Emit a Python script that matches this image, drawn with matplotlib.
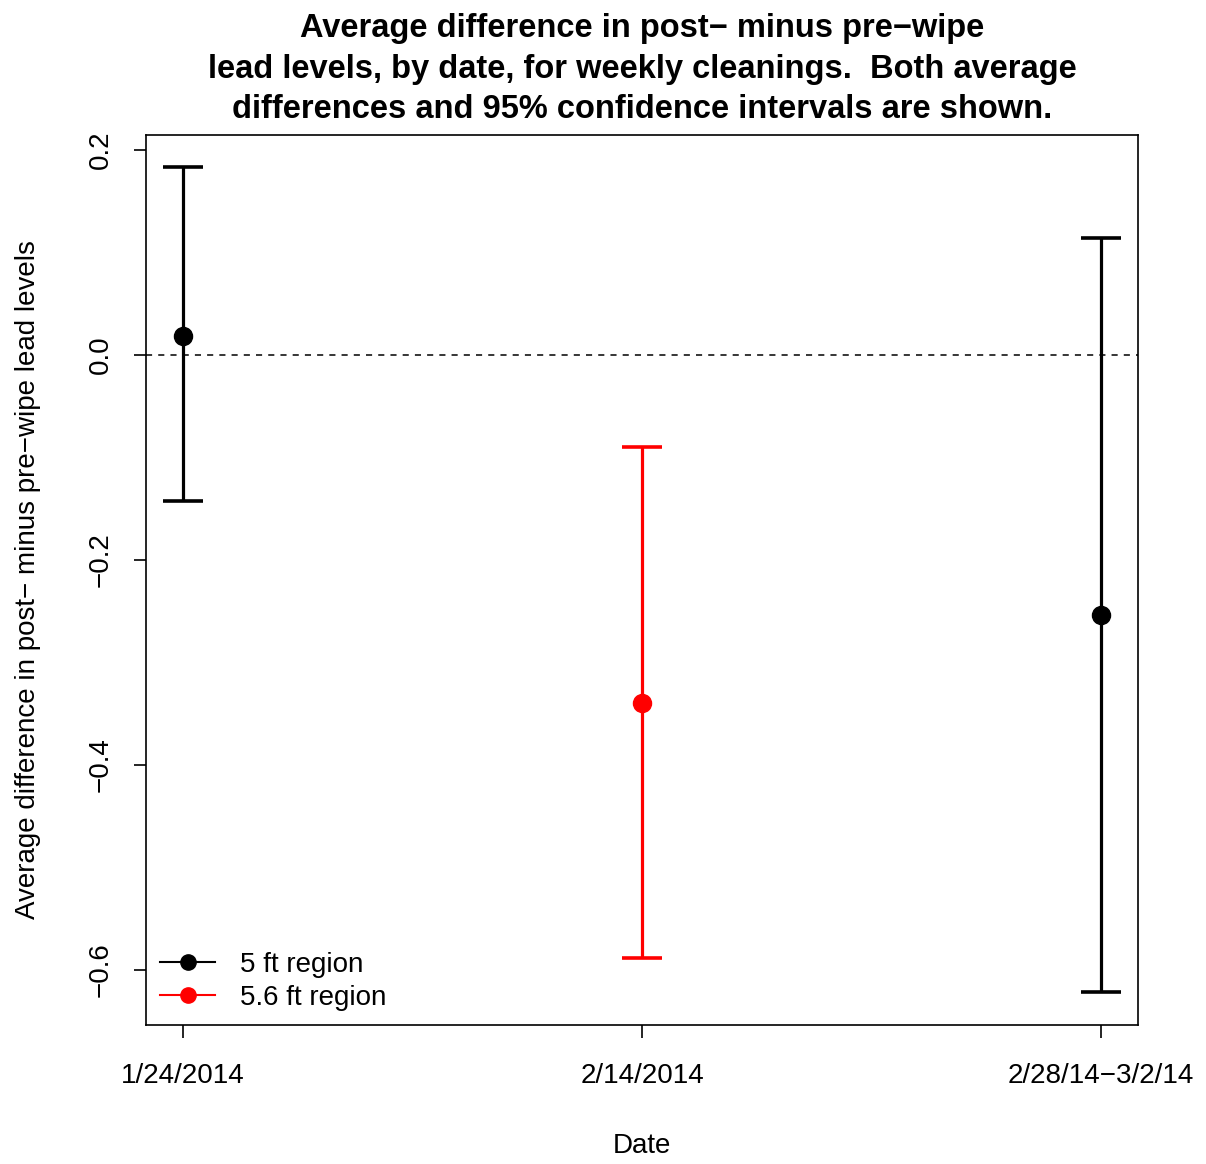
import numpy as np
import matplotlib.pyplot as plt

plt.rcParams['font.family'] = ['Liberation Sans', 'DejaVu Sans']

# --- Data ---
dates  = ['1/24/2014', '2/14/2014', '2/28/14\u22123/2/14']
means  = [0.018, -0.340, -0.254]
lower  = [-0.143, -0.589, -0.622]
upper  = [0.183, -0.090, 0.114]
colors = ['black', 'red', 'black']

# --- Plot ---
fig = plt.figure(figsize=(12.06, 11.64), dpi=100)
ax = fig.add_axes([0.1211, 0.1194, 0.8225, 0.7646])

x = np.arange(1, len(dates) + 1)
for i in range(len(dates)):
    ax.errorbar(x[i], means[i],
                yerr=[[means[i] - lower[i]], [upper[i] - means[i]]],
                fmt='o', color=colors[i], ms=13, elinewidth=2.3,
                capsize=14.5, capthick=2.6)

ax.axhline(0, color='black', linestyle=(0, (4, 4)), linewidth=1.1)

ax.set_xlim(0.92, 3.08)
ax.set_ylim(-0.654, 0.2146)
ax.set_xticks(x)
ax.set_xticklabels(dates)
ax.set_yticks([0.2, 0.0, -0.2, -0.4, -0.6])
ax.set_yticklabels(['0.2', '0.0', '\u22120.2', '\u22120.4', '\u22120.6'],
                   rotation=90, va='center')
ax.tick_params(labelsize=20, length=9, width=1.2)
ax.tick_params(axis='x', pad=18)
ax.tick_params(axis='y', pad=14)
for s in ax.spines.values():
    s.set_linewidth(1.2)

ax.set_xlabel('Date', fontsize=20, labelpad=32)
ax.set_ylabel('Average difference in post\u2212 minus pre\u2212wipe lead levels',
              fontsize=20, labelpad=34)
ax.set_title('Average difference in post\u2212 minus pre\u2212wipe\n'
             'lead levels, by date, for weekly cleanings.  Both average\n'
             'differences and 95% confidence intervals are shown.',
             fontsize=23.5, fontweight='bold', linespacing=1.4, pad=12)

# legend
h1, = ax.plot([], [], '-o', color='black', ms=11, lw=1.5)
h2, = ax.plot([], [], '-o', color='red', ms=11, lw=1.5)
ax.legend([h1, h2], ['5 ft region', '5.6 ft region'], loc='lower left',
          frameon=False, fontsize=20, handlelength=2.0, handletextpad=0.9,
          labelspacing=0.25, borderaxespad=0.2, borderpad=0.3)

fig.savefig('out.png', dpi=100)
